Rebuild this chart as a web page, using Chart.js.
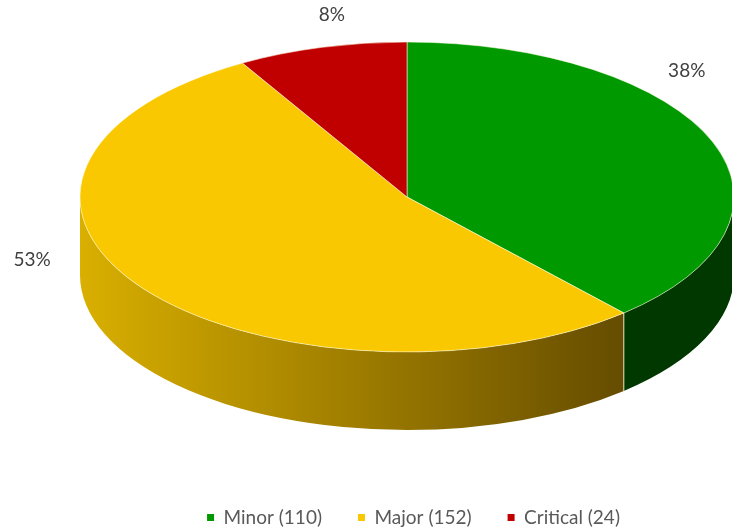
<!DOCTYPE html>
<html>
<head>
<meta charset="utf-8">
<script src="https://cdn.jsdelivr.net/npm/chart.js@4.4.0/dist/chart.umd.min.js"></script>
<style>
  html, body { margin: 0; padding: 0; background: #fff; }
</style>
</head>
<body>
<canvas id="defectChart" width="732" height="530"></canvas>
<script>
// data
const CATEGORIES = ["Minor", "Major", "Critical"];
const COUNTS = [110, 152, 24];

// colours for the top face and the side walls
const TOP_COLORS = ["#009900", "#FAC800", "#C00000"];
const SIDE_COLORS = [["#004800", "#003800"], ["#D9AF00", "#5E4600"], ["#800000", "#600000"]];

// where the tilted pie sits on the page
const PIE = { cx: 407, cy: 197, rx: 327, ry: 155, depth: 78 };
// nudges for the % labels, from the rim point at the middle of each slice
const LABEL_NUDGE = [[-26, -71], [-110, -28], [10, -32]];

const total = COUNTS.reduce((a, b) => a + b, 0);

const sideFill = (ctx, i) => {
    const g = ctx.createLinearGradient(PIE.cx - PIE.rx, 0, PIE.cx + PIE.rx * 0.77, 0);
    g.addColorStop(0, SIDE_COLORS[i][0]);
    g.addColorStop(1, SIDE_COLORS[i][1]);
    return g;
};

const drawWall = (ctx, s, e, fill) => {
    ctx.beginPath();
    ctx.ellipse(PIE.cx, PIE.cy, PIE.rx, PIE.ry, 0, s, e, false);
    ctx.ellipse(PIE.cx, PIE.cy + PIE.depth, PIE.rx, PIE.ry, 0, e, s, true);
    ctx.closePath();
    ctx.fillStyle = fill;
    ctx.fill();
};

const pie3d = {
    id: "pie3d",
    beforeDatasetsDraw(chart) {
        const ctx = chart.ctx;
        const arcs = chart.getDatasetMeta(0).data;

        // side walls, only the front half of the ellipse shows
        arcs.forEach((arc, i) => {
            for (const k of [-1, 0, 1]) {
                const s = Math.max(arc.startAngle + k * 2 * Math.PI, 0);
                const e = Math.min(arc.endAngle + k * 2 * Math.PI, Math.PI);
                if (e > s) drawWall(ctx, s, e, sideFill(ctx, i));
            }
        });

        // light edge where two walls meet
        ctx.save();
        ctx.strokeStyle = "rgba(255,255,235,0.8)";
        ctx.lineWidth = 1;
        arcs.forEach(arc => {
            let a = arc.startAngle;
            if (a < 0) a += 2 * Math.PI;
            if (a > 0.01 && a < Math.PI - 0.01) {
                const x = PIE.cx + PIE.rx * Math.cos(a);
                const y = PIE.cy + PIE.ry * Math.sin(a);
                ctx.beginPath();
                ctx.moveTo(x, y);
                ctx.lineTo(x, y + PIE.depth);
                ctx.stroke();
            }
        });
        ctx.restore();

        // squash the library's circle into the tilted top face
        const R = arcs[0].outerRadius;
        ctx.save();
        ctx.translate(PIE.cx, PIE.cy);
        ctx.scale(PIE.rx / R, PIE.ry / R);
        ctx.translate(-arcs[0].x, -arcs[0].y);
    },
    afterDatasetsDraw(chart) {
        const ctx = chart.ctx;
        ctx.restore();

        // percentage labels
        const arcs = chart.getDatasetMeta(0).data;
        ctx.save();
        ctx.font = "19px Lato";
        ctx.fillStyle = "#404040";
        ctx.textAlign = "center";
        ctx.textBaseline = "middle";
        arcs.forEach((arc, i) => {
            const m = (arc.startAngle + arc.endAngle) / 2;
            const x = PIE.cx + PIE.rx * Math.cos(m) + LABEL_NUDGE[i][0];
            const y = PIE.cy + PIE.ry * Math.sin(m) + LABEL_NUDGE[i][1];
            ctx.fillText(Math.round(COUNTS[i] / total * 100) + "%", x, y);
        });
        ctx.restore();
    }
};

const ctx = document.getElementById("defectChart").getContext("2d");

const defectChart = new Chart(ctx, {
    type: "pie",
    data: {
        labels: CATEGORIES.map((c, i) => c + " (" + COUNTS[i] + ")"),
        datasets: [{
            data: COUNTS,
            backgroundColor: TOP_COLORS,
            borderColor: "rgba(255,255,230,0.75)",
            borderWidth: 0.7,
            clip: false
        }]
    },
    options: {
        responsive: false,
        animation: false,
        layout: { padding: { left: 95, right: 0, top: 0, bottom: -7 } },
        plugins: {
            tooltip: { enabled: false },
            legend: {
                position: "bottom",
                labels: {
                    font: { family: "Lato", size: 19 },
                    color: "#595959",
                    boxWidth: 7,
                    boxHeight: 7,
                    padding: 36,
                    generateLabels: chart => CATEGORIES.map((c, i) => ({
                        text: c + " (" + COUNTS[i] + ")",
                        fillStyle: TOP_COLORS[i],
                        strokeStyle: TOP_COLORS[i],
                        lineWidth: 0,
                        fontColor: "#595959",
                        hidden: false,
                        index: i
                    }))
                }
            }
        }
    },
    plugins: [pie3d]
});
</script>
</body>
</html>
